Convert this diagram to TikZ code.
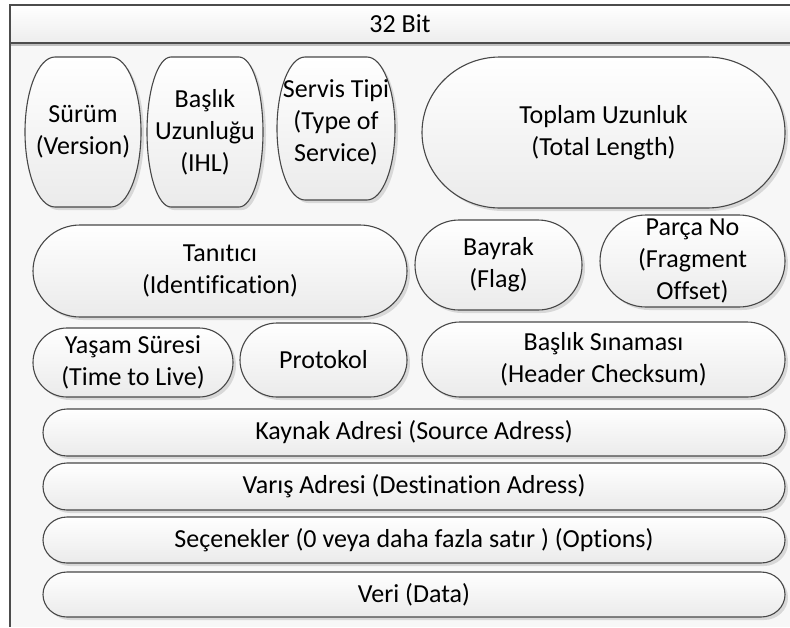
\documentclass[tikz,border=0pt]{standalone}
\usepackage{fontspec}
\setmainfont[Ligatures=NoCommon, RawFeature={-liga;-clig;-calt}]{Carlito}
\begin{document}
\begin{tikzpicture}[x=0.5pt,y=-0.5pt,
  capsulebox/.style={draw=black!72, line width=0.55pt, top color=white, bottom color=black!8},
  capsuleshadow/.style={fill=black, opacity=0.12},
  fieldtext/.style={align=center, inner sep=0pt, font=\fontsize{13}{16}\selectfont},
  frameline/.style={draw=black!70, line width=0.75pt}]

% capsule with elliptic corners: [label options] name, x1, y1, x2, y2, corner x-radius, label
\newcommand\capsule[8][]{%
  \pgfmathsetmacro\ymid{(#4+#6)/2}%
  \pgfmathsetmacro\kx{0.5523*#7}%
  \pgfmathsetmacro\ky{0.5523*(#6-#4)/2}%
  \def\capsulepath{(#3+#7,#4) -- (#5-#7,#4)
     .. controls (#5-#7+\kx,#4) and (#5,\ymid-\ky) .. (#5,\ymid)
     .. controls (#5,\ymid+\ky) and (#5-#7+\kx,#6) .. (#5-#7,#6)
     -- (#3+#7,#6)
     .. controls (#3+#7-\kx,#6) and (#3,\ymid+\ky) .. (#3,\ymid)
     .. controls (#3,\ymid-\ky) and (#3+#7-\kx,#4) .. cycle}%
  \fill[capsuleshadow, shift={(3,3)}] \capsulepath;
  \path[capsulebox] \capsulepath;
  \node[fieldtext,#1] (#2) at ({(#3+#5)/2},\ymid) {#8};%
}

\useasboundingbox (0,0) rectangle (790,627);

% frame and header bar
\fill[black!3] (10,43) rectangle (790,627);
\path[top color=white, bottom color=black!7] (10,5) rectangle (790,43);
\draw[black!25, line width=0.8pt] (10,45) -- (790,45);
\draw[frameline] (790,5) -- (10,5) -- (10,627);
\draw[frameline] (10,43) -- (790,43);
\node[fieldtext] (bits) at (400,24) {32 Bit};

% row 1
\capsule{ver}{25}{57}{141}{207}{30}{Sürüm\\(Version)}
\capsule{ihl}{147}{57}{263}{207}{24}{Başlık\\Uzunluğu\\(IHL)}
\capsule[yshift=3pt]{tos}{277}{57}{395}{200}{28}{Servis Tipi\\(Type of\\Service)}
\capsule{len}{422}{57}{785}{208}{78}{Toplam Uzunluk\\(Total Length)}

% row 2
\capsule{id}{33}{225}{407}{317}{47}{Tanıtıcı\\(Identification)}
\capsule{flag}{415}{220}{582}{310}{44}{Bayrak\\(Flag)}
\capsule{frag}{600}{215}{785}{307}{46}{Parça No\\(Fragment\\Offset)}

% row 3
\capsule{ttl}{33}{328}{233}{397}{34}{Yaşam Süresi\\(Time to Live)}
\capsule{proto}{240}{323}{407}{397}{37}{Protokol}
\capsule{csum}{422}{322}{785}{397}{38}{Başlık Sınaması\\(Header Checksum)}

% full-width rows
\capsule{src}{43}{409}{785}{456}{24}{Kaynak Adresi (Source Adress)}
\capsule{dst}{43}{463}{785}{510}{24}{Varış Adresi (Destination Adress)}
\capsule{opt}{43}{517}{785}{563}{24}{Seçenekler (0 veya daha fazla satır ) (Options)}
\capsule{data}{43}{572}{785}{617}{24}{Veri (Data)}
\end{tikzpicture}
\end{document}
